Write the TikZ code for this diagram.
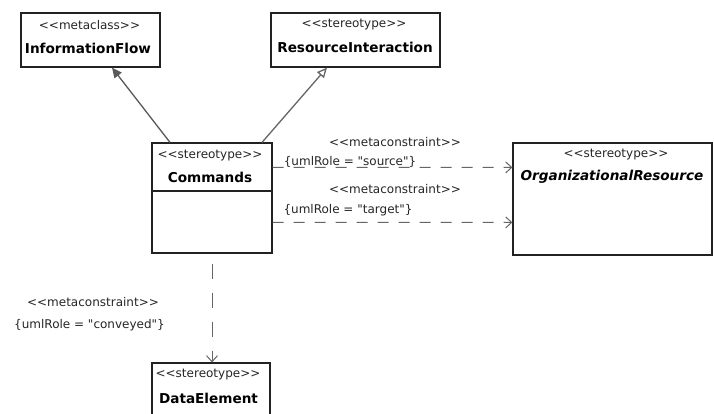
\documentclass[tikz,border=0pt]{standalone}
\usepackage{fontspec}
\setmainfont{DejaVu Sans}[Ligatures=TeXOff]
\usetikzlibrary{arrows.meta}
\definecolor{linegray}{HTML}{666666}
\definecolor{boxline}{HTML}{222222}
\tikzset{
  box/.style={draw=boxline, line width=1.2bp, fill=white, inner sep=0pt},
  ster/.style={inner sep=0pt, font=\fontsize{12bp}{14bp}\selectfont, text=black!85},
  nm/.style={inner sep=0pt, font=\fontsize{13.6bp}{16bp}\selectfont\bfseries},
  lbl/.style={inner sep=0pt, font=\fontsize{12bp}{14bp}\selectfont, text=black!85},
  gen/.style={draw=linegray, line width=1.3bp, -{Triangle[open, length=10bp, width=9bp]}},
  flow/.style={draw=black!65, line width=1.3bp, -{Triangle[length=10bp, width=9bp]}},
  dep/.style={draw=linegray, line width=1bp, dash pattern=on 11bp off 10bp, -{Straight Barb[length=6bp, width=11bp]}},
  vdep/.style={dep, dash pattern=on 15bp off 14bp, dash phase=19bp}
}
\begin{document}
\begin{tikzpicture}[x=1bp, y=-1bp]
\clip (0,0) rectangle (714,413);
\fill[white] (0,0) rectangle (714,413);
% boxes
\node[box, minimum width=139bp, minimum height=54bp] (if) at (90.5,40) {};
\node[box, minimum width=169bp, minimum height=54bp] (ri) at (355.5,40) {};
\node[box, minimum width=120bp, minimum height=110bp] (cmd) at (212,198) {};
\node[box, minimum width=199bp, minimum height=112bp] (org) at (612.5,199) {};
\node[box, minimum width=118bp, minimum height=70bp] (de) at (211,398) {};
\draw[boxline, line width=1.2bp] (cmd.west |- 0,191) -- (cmd.east |- 0,191);
% texts in boxes
\node[ster] (ifs) at (89.5,25) {<<metaclass>>};
\node[nm] (ifn) at (88,48) {InformationFlow};
\node[ster] (ris) at (354,25) {<<stereotype>>};
\node[nm] (rin) at (355,47) {ResourceInteraction};
\node[ster] (cmds) at (210,156) {<<stereotype>>};
\node[nm] (cmdn) at (210,177) {Commands};
\node[ster] (orgs) at (616,155) {<<stereotype>>};
\node[nm, font=\fontsize{13.6bp}{16bp}\selectfont\bfseries\itshape] (orgn) at (612,177) {OrganizationalResource};
\node[ster] (des) at (208,375) {<<stereotype>>};
\node[nm] (den) at (208.5,398) {DataElement};
% connectors
\draw[flow] ([xshift=-42bp]cmd.north) -- ([xshift=21.5bp]if.south);
\draw[gen] ([xshift=50bp]cmd.north) -- ([xshift=-28.5bp]ri.south);
\draw[dep] ([yshift=-25bp]cmd.north east) -- ([yshift=-25bp]org.north west);
\draw[dep] ([yshift=-80bp]cmd.north east) -- ([yshift=-80bp]org.north west);
\draw[vdep] (cmd.south) -- (cmd.south |- de.north);
% labels
\node[lbl] (l1a) at (395,142) {<<metaconstraint>>};
\node[lbl] (l1b) at (350,162) {\{umlRole = "source"\}};
\node[lbl] (l2a) at (395,189) {<<metaconstraint>>};
\node[lbl] (l2b) at (348,210) {\{umlRole = "target"\}};
\node[lbl] (l3a) at (93,302) {<<metaconstraint>>};
\node[lbl] (l3b) at (89.5,325) {\{umlRole = "conveyed"\}};
\end{tikzpicture}
\end{document}
